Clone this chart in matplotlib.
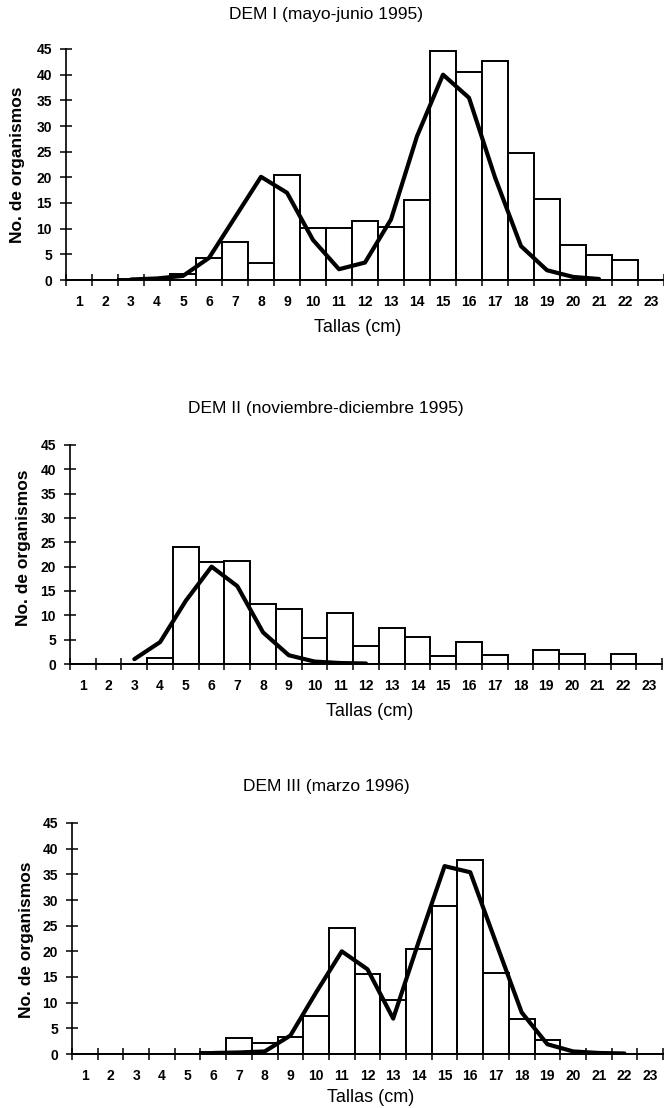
import numpy as np
import matplotlib
matplotlib.use('Agg')
import matplotlib.pyplot as plt

plt.rcParams['font.family'] = ['Liberation Sans', 'DejaVu Sans']

# size classes (cm)
tallas = list(range(1, 24))

# observed counts per size class
dem1_counts = [0, 0, 0.2, 0.3, 1.2, 4.3, 7.4, 3.4, 20.5, 10.2, 10.2, 11.4, 10.4,
               15.6, 44.6, 40.6, 42.7, 24.8, 15.7, 6.8, 4.8, 3.9, 0]
dem2_counts = [0, 0, 0, 1.2, 24.1, 21.0, 21.1, 12.3, 11.3, 5.3, 10.4, 3.6, 7.5,
               5.5, 1.7, 4.6, 1.8, 0, 2.9, 2.0, 0, 2.0, 0]
dem3_counts = [0, 0, 0, 0, 0, 0.3, 3.2, 2.2, 3.3, 7.4, 24.5, 15.5, 10.6,
               20.5, 28.8, 37.8, 15.8, 6.9, 2.7, 0, 0, 0, 0]

# fitted curves (x = size class, y = expected count)
dem1_fit_x = list(range(3, 22))
dem1_fit_y = [0.1, 0.3, 0.8, 4.3, 12.2, 20.1, 17.0, 7.8, 2.1, 3.4, 11.8, 28.0,
              40.0, 35.5, 20.0, 6.6, 1.9, 0.6, 0.2]
dem2_fit_x = list(range(3, 13))
dem2_fit_y = [1.0, 4.5, 13.0, 20.0, 16.0, 6.5, 1.8, 0.5, 0.2, 0.1]
dem3_fit_x = list(range(6, 23))
dem3_fit_y = [0.2, 0.3, 0.5, 3.6, 12.0, 20.0, 16.5, 6.9, 22.0, 36.6, 35.4,
              21.7, 8.1, 1.9, 0.5, 0.2, 0.1]

titles = ['DEM I (mayo-junio 1995)',
          'DEM II (noviembre-diciembre 1995)',
          'DEM III (marzo 1996)']

W, H = 664, 1108


def px_box(left, top, bottom, width):
    return [left / W, 1 - bottom / H, width / W, (bottom - top) / H]


def fig_xy(x, y):
    return x / W, 1 - y / H


def draw_panel(fig, box, counts, fit_x, fit_y):
    ax = fig.add_axes(box)
    ax.bar(tallas, counts, width=1.0, color='white', edgecolor='black',
           linewidth=1.4, zorder=2)
    ax.plot(fit_x, fit_y, color='black', linewidth=3.0, zorder=3,
            solid_joinstyle='round', solid_capstyle='round')

    ax.set_xlim(0.5, 23.5)
    ax.set_ylim(0, 45)
    ax.set_yticks(np.arange(0, 46, 5))
    ax.set_xticks(np.arange(0.5, 24, 1))
    ax.set_xticklabels([])
    ax.set_xticks(tallas, minor=True)
    ax.set_xticklabels([str(t) for t in tallas], minor=True,
                       fontsize=10, fontweight='bold')
    ax.tick_params(axis='x', which='major', direction='inout', length=8,
                   width=1.1)
    ax.tick_params(axis='x', which='minor', length=0, pad=11)
    ax.tick_params(axis='y', direction='inout', length=8, width=1.1, pad=6,
                   labelsize=10)
    for lab in ax.get_yticklabels():
        lab.set_fontweight('bold')

    for side in ['top', 'right']:
        ax.spines[side].set_visible(False)
    ax.spines['left'].set_linewidth(1.2)
    ax.spines['bottom'].set_linewidth(1.4)
    ax.patch.set_alpha(0)
    return ax


fig = plt.figure(figsize=(W / 100, H / 100), dpi=100)

# panel boxes in pixels: left, top (y=45), bottom (y=0), width
boxes = [px_box(66, 49, 280, 598),
         px_box(70, 445, 664, 592),
         px_box(72, 823, 1054, 591)]
counts = [dem1_counts, dem2_counts, dem3_counts]
fits = [(dem1_fit_x, dem1_fit_y), (dem2_fit_x, dem2_fit_y),
        (dem3_fit_x, dem3_fit_y)]

title_pos = [(326, 15), (326, 408), (326, 786)]
xlab_pos = [(358, 328), (370, 712), (371, 1097)]
ylab_pos = [(18, 165), (24, 548), (27, 940)]

for i in range(3):
    draw_panel(fig, boxes[i], counts[i], fits[i][0], fits[i][1])
    x, y = fig_xy(*title_pos[i])
    fig.text(x, y, titles[i], ha='center', va='center', fontsize=12.5)
    x, y = fig_xy(*xlab_pos[i])
    fig.text(x, y, 'Tallas (cm)', ha='center', va='center', fontsize=13)
    x, y = fig_xy(*ylab_pos[i])
    fig.text(x, y, 'No. de organismos', ha='center', va='center',
             rotation=90, fontsize=12.5, fontweight='bold')

fig.savefig('out.png', dpi=100)
